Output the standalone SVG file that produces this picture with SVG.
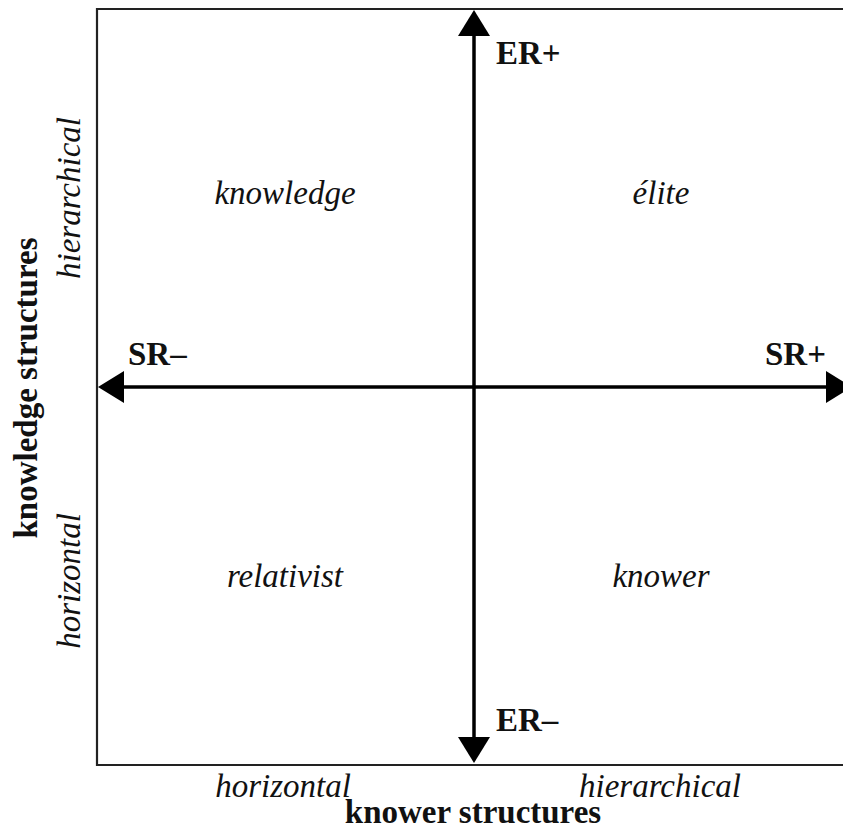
<svg xmlns="http://www.w3.org/2000/svg" width="843" height="831" viewBox="0 0 843 831">
<style>
  text { font-family: "Liberation Serif", "Times New Roman", serif; font-size: 33px; fill: #111; }
  .b { font-weight: bold; }
  .i { font-style: italic; }
  .axis { stroke: #000; stroke-width: 3.5; fill: none; marker-start: url(#ah); marker-end: url(#ah); }
</style>
<defs>
  <marker id="ah" viewBox="0 0 26 32" refX="16" refY="16" markerWidth="26" markerHeight="32" markerUnits="userSpaceOnUse" orient="auto-start-reverse">
    <path d="M0,0 L26,16 L0,32 z" fill="#000"/>
  </marker>
</defs>
<rect x="0" y="0" width="843" height="831" fill="#fff"/>
<g id="frame">
  <path d="M860,9 H97 V765 H860" fill="none" stroke="#222" stroke-width="2.2"/>
</g>
<g id="connectors">
  <line class="axis" x1="474" y1="753" x2="474" y2="20"/>
  <line class="axis" x1="108" y1="387" x2="842" y2="387"/>
</g>
<g id="axis-labels">
  <text class="b" x="496" y="64">ER+</text>
  <text class="b" x="496" y="731">ER–</text>
  <text class="b" x="128" y="365">SR–</text>
  <text class="b" x="765" y="365">SR+</text>
</g>
<g id="q-knowledge"><text class="i" x="285" y="204" text-anchor="middle">knowledge</text></g>
<g id="q-elite"><text class="i" x="661" y="204" text-anchor="middle">élite</text></g>
<g id="q-relativist"><text class="i" x="285" y="587" text-anchor="middle">relativist</text></g>
<g id="q-knower"><text class="i" x="661" y="587" text-anchor="middle">knower</text></g>
<g id="x-axis-title">
  <text class="i" x="283" y="797" text-anchor="middle">horizontal</text>
  <text class="i" x="660" y="797" text-anchor="middle">hierarchical</text>
  <text class="b" x="473" y="823" text-anchor="middle">knower structures</text>
</g>
<g id="y-axis-title">
  <text class="b" transform="translate(37,388) rotate(-90)" text-anchor="middle">knowledge structures</text>
  <text class="i" transform="translate(80,198) rotate(-90)" text-anchor="middle">hierarchical</text>
  <text class="i" transform="translate(80,581) rotate(-90)" text-anchor="middle">horizontal</text>
</g>
</svg>
